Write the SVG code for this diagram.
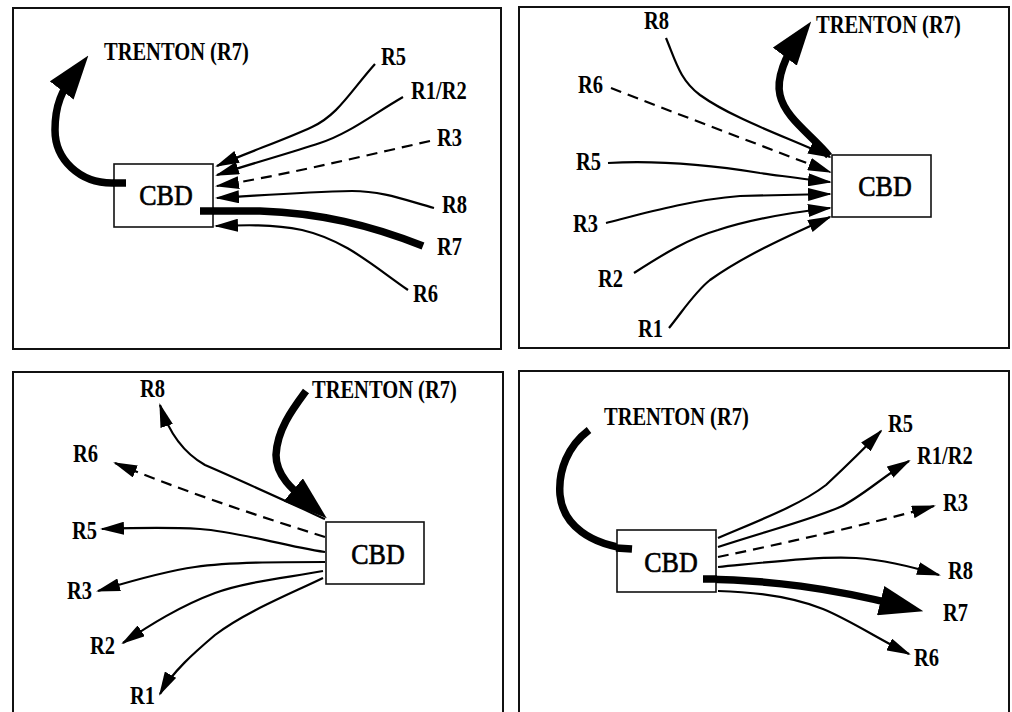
<svg xmlns="http://www.w3.org/2000/svg" width="1012" height="712" viewBox="0 0 1012 712">
  <style>
    .frame { fill: none; stroke: #111; stroke-width: 2; }
    .box { fill: #fff; stroke: #111; stroke-width: 1.6; }
    .cbd { font-family: "Liberation Serif", "Times New Roman", Times, serif; font-size: 26px; font-weight: normal; fill: #000; stroke: #000; stroke-width: 0.6; text-anchor: middle; }
    .lbl { font-family: "Liberation Serif", "Times New Roman", Times, serif; font-size: 20.5px; font-weight: bold; fill: #000; }
    .flow { fill: none; stroke: #000; stroke-width: 2.2; }
    .dash { stroke-dasharray: 11 7; }
    .main { fill: none; stroke: #000; stroke-width: 7.5; stroke-linecap: butt; }
    .in { marker-end: url(#head); }
    .big { marker-end: url(#bighead); }
  </style>
  <defs>
    <marker id="head" markerUnits="userSpaceOnUse" viewBox="0 0 24 13" markerWidth="24" markerHeight="13" refX="22" refY="6.5" orient="auto">
      <path d="M0,0 L24,6.5 L0,13 Z" fill="#000"/>
    </marker>
    <marker id="bighead" markerUnits="userSpaceOnUse" viewBox="0 0 44 30" markerWidth="44" markerHeight="30" refX="22" refY="15" orient="auto">
      <path d="M0,0 L44,15 L0,30 Z" fill="#000"/>
    </marker>
  </defs>

  <!-- panel frames -->
  <g id="frames">
    <rect class="frame" x="13" y="8" width="488" height="341"/>
    <rect class="frame" x="519" y="7" width="490" height="341"/>
    <path class="frame" d="M13,715 V372 H503 V715"/>
    <path class="frame" d="M519,715 V371 H1009 V715"/>
  </g>

  <!-- connectors -->
  <g id="connectors">
    <!-- panel 1: inbound to CBD -->
    <path class="flow in" d="M375,64 C350,92 338,115 312,127 C282,141 248,152 217,166"/>
    <path class="flow in" d="M403,97 C372,115 348,134 320,143 C287,154 250,164 217,175"/>
    <path class="flow dash in" d="M430,141 C355,158 275,177 217,186"/>
    <path class="flow in" d="M434,208 C405,200 382,191 352,191 C300,192 255,196 217,198"/>
    <path class="flow in" d="M408,290 C372,265 345,240 302,230 C272,224 244,225 216,226"/>
    <path class="main" d="M423,246 C370,225 320,213 260,211 L200,211"/>
    <path class="main big" d="M126,183 L112,183 C80,183 55,160 55,130 C55,105 62,90 75,73"/>

    <!-- panel 2: inbound to CBD -->
    <path class="flow in" d="M666,38 C676,62 680,80 700,95 C735,120 790,138 830,157"/>
    <path class="flow dash in" d="M611,88 C680,115 760,145 830,172"/>
    <path class="flow in" d="M608,163 C660,160 710,165 760,173 C790,177 810,180 830,182"/>
    <path class="flow in" d="M606,223 C645,213 690,200 740,196 L830,194"/>
    <path class="flow in" d="M634,273 C665,253 690,238 718,230 C755,218 795,212 830,208"/>
    <path class="flow in" d="M669,328 C685,308 695,292 710,280 C745,255 790,235 830,217"/>
    <path class="main big" d="M829,156 C812,135 785,118 780,95 C776,78 786,55 798,39"/>

    <!-- panel 3: outbound from CBD -->
    <path class="flow in" d="M325,519 C290,503 240,480 205,465 C182,452 168,430 160,405"/>
    <path class="flow dash in" d="M325,537 C255,515 180,490 115,463"/>
    <path class="flow in" d="M325,552 C280,545 240,532 200,529 C165,527 130,528 102,529"/>
    <path class="flow in" d="M325,562 C280,562 230,562 195,567 C160,572 125,583 98,591"/>
    <path class="flow in" d="M323,571 C285,578 245,582 215,593 C180,606 150,625 123,643"/>
    <path class="flow in" d="M323,578 C290,594 245,612 215,635 C195,652 172,672 160,694"/>
    <path class="main big" d="M306,391 C292,410 277,430 276,455 C276,478 297,493 310,504"/>

    <!-- panel 4: outbound from CBD -->
    <path class="flow in" d="M718,538 C760,520 800,505 826,485 C842,470 860,453 881,431"/>
    <path class="flow in" d="M718,547 C770,530 810,520 840,507 C860,498 885,475 909,461"/>
    <path class="flow dash in" d="M718,557 C790,542 870,524 934,506"/>
    <path class="flow in" d="M718,567 C770,562 820,556 856,558 C885,560 910,566 939,575"/>
    <path class="flow in" d="M718,591 C760,592 795,598 823,609 C850,620 880,640 909,654"/>
    <path class="main big" d="M703,579 C770,580 830,588 902,606"/>
    <path class="main" d="M589,430 C568,446 558,470 560,495 C563,525 590,545 632,549"/>
  </g>

  <!-- CBD nodes -->
  <g id="cbd-1"><rect class="box" x="114" y="164" width="99" height="63"/><text class="cbd" transform="translate(166 205) scale(1 1.15)">CBD</text></g>
  <g id="cbd-2"><rect class="box" x="832" y="155" width="99" height="62"/><text class="cbd" transform="translate(885 196) scale(1 1.15)">CBD</text></g>
  <g id="cbd-3"><rect class="box" x="326" y="522" width="98" height="62"/><text class="cbd" transform="translate(378 564) scale(1 1.15)">CBD</text></g>
  <g id="cbd-4"><rect class="box" x="617" y="530" width="99" height="62"/><text class="cbd" transform="translate(671 572) scale(1 1.15)">CBD</text></g>

  <!-- thick stubs that end inside the boxes -->
  <g id="stubs">
    <path class="main" d="M126,183 L113,183"/>
    <path class="main" d="M200,211 L214,211"/>
    <path class="main" d="M703,579 L717,579"/>
    <path class="main" d="M632,549 L616,548"/>
  </g>

  <!-- route labels, panel 1 -->
  <g id="p1-trenton"><text class="lbl" transform="translate(104 60) scale(1 1.18)">TRENTON (R7)</text></g>
  <g id="p1-r5"><text class="lbl" transform="translate(381 65) scale(1 1.18)">R5</text></g>
  <g id="p1-r1r2"><text class="lbl" transform="translate(411 99) scale(1 1.18)">R1/R2</text></g>
  <g id="p1-r3"><text class="lbl" transform="translate(437 146) scale(1 1.18)">R3</text></g>
  <g id="p1-r8"><text class="lbl" transform="translate(442 213) scale(1 1.18)">R8</text></g>
  <g id="p1-r7"><text class="lbl" transform="translate(437 255) scale(1 1.18)">R7</text></g>
  <g id="p1-r6"><text class="lbl" transform="translate(413 302) scale(1 1.18)">R6</text></g>

  <!-- route labels, panel 2 -->
  <g id="p2-r8"><text class="lbl" transform="translate(644 29) scale(1 1.18)">R8</text></g>
  <g id="p2-trenton"><text class="lbl" transform="translate(816 33) scale(1 1.18)">TRENTON (R7)</text></g>
  <g id="p2-r6"><text class="lbl" transform="translate(578 93) scale(1 1.18)">R6</text></g>
  <g id="p2-r5"><text class="lbl" transform="translate(576 170) scale(1 1.18)">R5</text></g>
  <g id="p2-r3"><text class="lbl" transform="translate(573 232) scale(1 1.18)">R3</text></g>
  <g id="p2-r2"><text class="lbl" transform="translate(598 287) scale(1 1.18)">R2</text></g>
  <g id="p2-r1"><text class="lbl" transform="translate(638 337) scale(1 1.18)">R1</text></g>

  <!-- route labels, panel 3 -->
  <g id="p3-r8"><text class="lbl" transform="translate(140 397) scale(1 1.18)">R8</text></g>
  <g id="p3-trenton"><text class="lbl" transform="translate(312 398) scale(1 1.18)">TRENTON (R7)</text></g>
  <g id="p3-r6"><text class="lbl" transform="translate(73 462) scale(1 1.18)">R6</text></g>
  <g id="p3-r5"><text class="lbl" transform="translate(72 539) scale(1 1.18)">R5</text></g>
  <g id="p3-r3"><text class="lbl" transform="translate(67 599) scale(1 1.18)">R3</text></g>
  <g id="p3-r2"><text class="lbl" transform="translate(90 654) scale(1 1.18)">R2</text></g>
  <g id="p3-r1"><text class="lbl" transform="translate(130 704) scale(1 1.18)">R1</text></g>

  <!-- route labels, panel 4 -->
  <g id="p4-trenton"><text class="lbl" transform="translate(604 425) scale(1 1.18)">TRENTON (R7)</text></g>
  <g id="p4-r5"><text class="lbl" transform="translate(888 432) scale(1 1.18)">R5</text></g>
  <g id="p4-r1r2"><text class="lbl" transform="translate(917 464) scale(1 1.18)">R1/R2</text></g>
  <g id="p4-r3"><text class="lbl" transform="translate(943 511) scale(1 1.18)">R3</text></g>
  <g id="p4-r8"><text class="lbl" transform="translate(948 579) scale(1 1.18)">R8</text></g>
  <g id="p4-r7"><text class="lbl" transform="translate(943 621) scale(1 1.18)">R7</text></g>
  <g id="p4-r6"><text class="lbl" transform="translate(914 666) scale(1 1.18)">R6</text></g>
</svg>
